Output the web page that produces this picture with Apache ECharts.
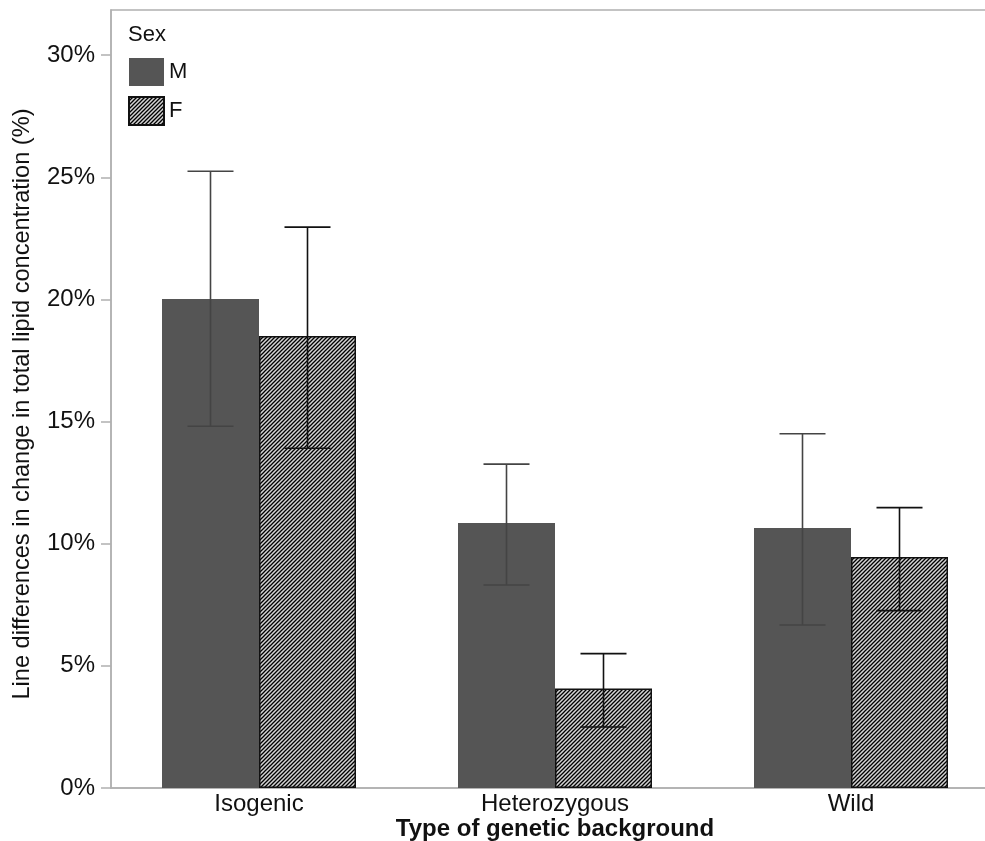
<!DOCTYPE html>
<html>
<head>
<meta charset="utf-8">
<script src="https://cdn.jsdelivr.net/npm/echarts@6/dist/echarts.min.js"></script>
<style>
html,body{margin:0;padding:0;background:#fff;}
#chart{width:985px;height:841px;}
</style>
</head>
<body>
<div id="chart"></div>
<script>
// ---- data (percent) ----
var categories = ['Isogenic', 'Heterozygous', 'Wild'];
var maleMean = [20.02, 10.85, 10.64];
var maleLow = [14.81, 8.31, 6.67];
var maleHigh = [25.25, 13.26, 14.50];
var femaleMean = [18.50, 4.07, 9.46];
var femaleLow = [13.91, 2.50, 7.26];
var femaleHigh = [22.96, 5.50, 11.48];
var yTicks = [0, 5, 10, 15, 20, 25, 30];
var seriesNames = ['M', 'F'];

// ---- styles ----
var FONT = 'Liberation Sans, Arial, sans-serif';
var BAR_W = 97;
var CAP_W = 46;

function makePattern() {
  var c = document.createElement('canvas');
  c.width = 4; c.height = 4;
  var ctx = c.getContext('2d');
  ctx.fillStyle = '#d4d4d4';
  ctx.fillRect(0, 0, 4, 4);
  ctx.strokeStyle = '#000';
  ctx.lineWidth = 1.3;
  ctx.beginPath();
  ctx.moveTo(0, 4); ctx.lineTo(4, 0);
  ctx.moveTo(-1, 1); ctx.lineTo(1, -1);
  ctx.moveTo(3, 5); ctx.lineTo(5, 3);
  ctx.stroke();
  return c;
}
var pattern = { image: makePattern(), repeat: 'repeat' };

function errorSeries(name, low, high, offsetSign, color) {
  var data = categories.map(function (c, i) { return [i, low[i], high[i]]; });
  return {
    type: 'custom',
    name: name + '_err',
    z: 10,
    silent: true,
    data: data,
    renderItem: function (params, api) {
      var idx = api.value(0);
      var lo = api.coord([idx, api.value(1)]);
      var hi = api.coord([idx, api.value(2)]);
      var x = lo[0] + offsetSign * BAR_W / 2;
      var st = { stroke: color, lineWidth: 1.6 };
      return {
        type: 'group',
        children: [
          { type: 'line', shape: { x1: x, y1: lo[1], x2: x, y2: hi[1] }, style: st },
          { type: 'line', shape: { x1: x - CAP_W / 2, y1: hi[1], x2: x + CAP_W / 2, y2: hi[1] }, style: st },
          { type: 'line', shape: { x1: x - CAP_W / 2, y1: lo[1], x2: x + CAP_W / 2, y2: lo[1] }, style: st }
        ]
      };
    }
  };
}

var chart = echarts.init(document.getElementById('chart'), null, { renderer: 'canvas' });
chart.setOption({
  animation: false,
  backgroundColor: '#fff',
  textStyle: { fontFamily: FONT },
  title: {
    text: 'Sex',
    left: 123, top: 19,
    textStyle: { fontFamily: FONT, fontSize: 22, fontWeight: 'normal', color: '#111' }
  },
  legend: {
    data: seriesNames,
    orient: 'vertical',
    left: 128, top: 58,
    padding: 0,
    itemWidth: 35, itemHeight: 28, itemGap: 10,
    icon: 'rect',
    textStyle: { fontFamily: FONT, fontSize: 22, color: '#111' }
  },
  grid: {
    left: 111, width: 888, top: 10, height: 778,
    outerBoundsMode: 'none',
    containLabel: false,
    show: true, borderColor: '#b0b0b0', borderWidth: 1.5
  },
  xAxis: {
    type: 'category',
    data: categories,
    axisLine: { lineStyle: { color: '#b0b0b0', width: 1.5 } },
    axisTick: { show: false },
    axisLabel: { fontFamily: FONT, fontSize: 24, color: '#111', margin: 4 },
    name: 'Type of genetic background',
    nameLocation: 'middle',
    nameGap: 29,
    nameMoveOverlap: false,
    nameTextStyle: { fontFamily: FONT, fontSize: 24, fontWeight: 'bold', color: '#111' }
  },
  yAxis: {
    type: 'value',
    min: 0, max: 31.85,
    splitLine: { show: false },
    axisLine: { show: true, lineStyle: { color: '#b0b0b0', width: 1.5 } },
    axisTick: { show: true, length: 10, lineStyle: { color: '#b0b0b0', width: 1.5 }, customValues: yTicks },
    axisLabel: { fontFamily: FONT, fontSize: 24, color: '#111', margin: 16, customValues: yTicks, formatter: '{value}%' },
    name: 'Line differences in change in total lipid concentration (%)',
    nameLocation: 'middle',
    nameGap: 77,
    nameMoveOverlap: false,
    nameTextStyle: { fontFamily: FONT, fontSize: 23.6, color: '#111', padding: [0, 10, 0, 0] }
  },
  series: [
    {
      name: 'M', type: 'bar', data: maleMean, barWidth: BAR_W, barGap: '0%',
      itemStyle: { color: '#555555' }
    },
    {
      name: 'F', type: 'bar', data: femaleMean, barWidth: BAR_W, barGap: '0%',
      itemStyle: { color: pattern, borderColor: '#111', borderWidth: 1.5 }
    },
    errorSeries('M', maleLow, maleHigh, -1, '#444444'),
    errorSeries('F', femaleLow, femaleHigh, 1, '#111111')
  ]
});
</script>
</body>
</html>
